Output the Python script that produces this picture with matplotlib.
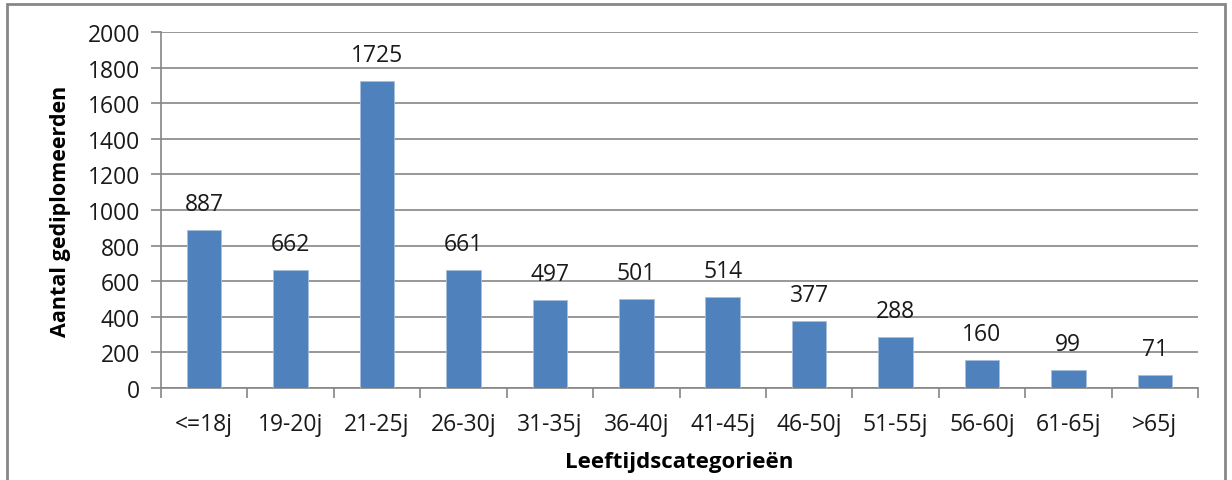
import matplotlib
matplotlib.use('Agg')
import matplotlib.pyplot as plt
from matplotlib.patches import Rectangle

categories = ['<=18j', '19-20j', '21-25j', '26-30j', '31-35j', '36-40j',
              '41-45j', '46-50j', '51-55j', '56-60j', '61-65j', '>65j']
counts = [887, 662, 1725, 661, 497, 501, 514, 377, 288, 160, 99, 71]
yticks = [0, 200, 400, 600, 800, 1000, 1200, 1400, 1600, 1800, 2000]

plt.rcParams['font.family'] = ['Open Sans', 'DejaVu Sans']
grey = '#868686'
txt = '#1a1a1a'

fig = plt.figure(figsize=(12.32, 4.81), dpi=100)
ax = fig.add_axes([161/1232, 1 - 389/481, (1198 - 161)/1232, (389 - 33)/481])

x = list(range(len(categories)))
ax.bar(x, counts, width=0.4, color='#4F81BD', edgecolor='#a7c0de', linewidth=0.6, zorder=3)
for xi, v in zip(x, counts):
    ax.annotate(str(v), (xi, v), xytext=(0, 10), textcoords='offset points',
                ha='center', va='bottom', fontsize=16.5, color=txt)

ax.set_xlim(-0.5, len(categories) - 0.5)
ax.set_ylim(0, 2000)
ax.set_yticks(yticks)
ax.set_yticklabels([str(t) for t in yticks], fontsize=16.5, color=txt)
ax.yaxis.grid(True, color=grey, linewidth=1.2, zorder=0)
ax.tick_params(axis='y', length=7, width=1.2, color=grey, pad=8)

ax.set_xticks(x)
ax.set_xticklabels(categories, fontsize=16.5, color=txt)
ax.set_xticks([i - 0.5 for i in range(len(categories) + 1)], minor=True)
ax.tick_params(axis='x', which='major', length=0, pad=17)
ax.tick_params(axis='x', which='minor', length=7, width=1.2, color=grey)

for s in ['top', 'right']:
    ax.spines[s].set_visible(False)
for s in ['left', 'bottom']:
    ax.spines[s].set_color(grey)
    ax.spines[s].set_linewidth(1.2)

ax.set_ylabel('Aantal gediplomeerden', fontsize=15.5, fontweight='bold', labelpad=12)
ax.set_xlabel('Leeftijdscategorieën', fontsize=16, fontweight='bold', labelpad=11)

fig.patches.append(Rectangle((7/1232, -0.05), (1225 - 7)/1232, 1.05 - 5/481,
                             transform=fig.transFigure, fill=False,
                             edgecolor='#878787', linewidth=2))

fig.savefig('out.png', dpi=100)
